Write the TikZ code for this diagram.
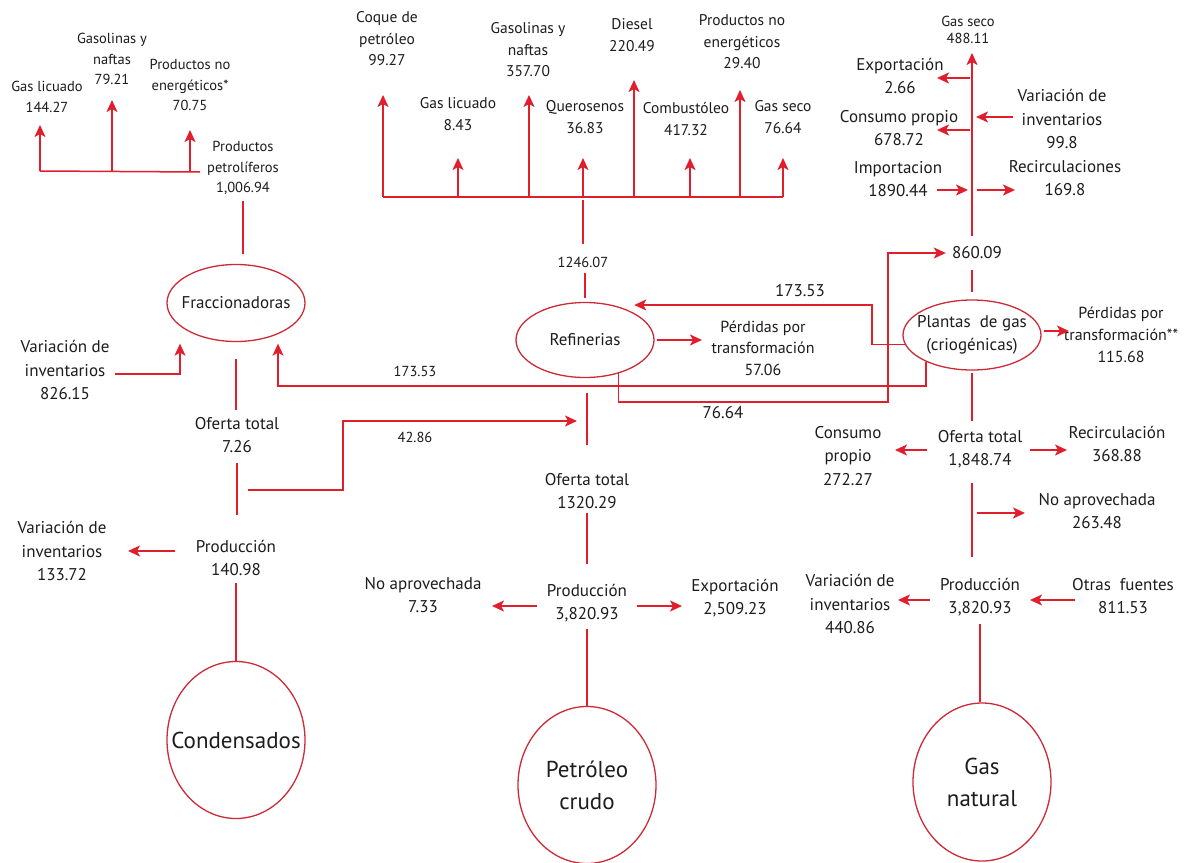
\documentclass[tikz,border=0pt]{standalone}
\usepackage{fontspec}
\setmainfont{PT Sans}
\usepackage{xcolor}
\usepackage{tikz}
\usetikzlibrary{arrows.meta,positioning,shapes.geometric,calc}
\definecolor{flowred}{RGB}{224,30,44}
\definecolor{ringred}{RGB}{205,42,55}
\definecolor{ink}{RGB}{30,28,28}
\newcommand{\fminor}{\fontsize{14.5}{20.5}\selectfont}
\newcommand{\ftop}{\fontsize{15.5}{21.5}\selectfont}
\newcommand{\fnorm}{\fontsize{17}{23.5}\selectfont}
\newcommand{\fhuge}{\fontsize{23}{32}\selectfont}
\tikzset{
  plant/.style={draw=ringred, ellipse, line width=1.3pt, minimum width=138pt, minimum height=75pt, inner sep=0pt},
  source/.style={plant, minimum height=157pt},
  amount/.style={align=center, text=ink, inner sep=1pt, font=\fnorm},
  minor/.style={amount, font=\fminor},
  product/.style={amount, font=\ftop},
  link/.style={draw=flowred, line width=1.5pt},
  flow/.style={link, -{Stealth[length=12pt, width=11pt, inset=3pt]}},
}

\begin{document}
\begin{tikzpicture}[x=1pt,y=-1pt]
  \path[fill=white] (0,0) rectangle (1185,862);
  \useasboundingbox (0,0) rectangle (1185,862);

  % Condensados
  \node[source, label={[amount, font=\fhuge]center:Condensados}] (cond) at (236,740) {};
  \node[amount] (cprod) at (236,558) {Producción\\140.98};
  \node[amount] (cvinv) at (62,551) {Variación de\\inventarios\\133.72};
  \node[amount] (coft)  at (237,435) {Oferta total\\7.26};
  \node[plant, minimum height=77pt, label={[amount]center:Fraccionadoras}] (frac) at (236,303) {};
  \node[amount] (fvinv) at (65,370) {Variación de\\inventarios\\826.15};
  \node[minor] (fpetro) at (243,168) {Productos\\petrolíferos\\1,006.94};
  \node[minor] (fgl)  at (47,97)  {Gas licuado\\144.27};
  \node[minor] (fgas) at (112,59) {Gasolinas y\\naftas\\79.21};
  \node[minor] (fpne) at (190,85) {Productos no\\energéticos*\\70.75};

  % Petroleo crudo
  \node[source, label={[amount, font=\fhuge]center:Petróleo\\crudo}] (crudo) at (587,785) {};
  \node[amount] (pprod) at (587,603) {Producción\\3,820.93};
  \node[amount] (pnoap) at (423,595) {No aprovechada\\7.33};
  \node[amount] (pexp)  at (735,598) {Exportación\\2,509.23};
  \node[amount] (poft)  at (587,491) {Oferta total\\1320.29};
  \node[plant, label={[amount]center:Refinerias}] (refi) at (585,340) {};
  \node[amount, font=\fontsize{16}{21.5}\selectfont] (rperd) at (763,348) {Pérdidas por\\transformación\\57.06};
  \node[minor] (rin) at (583,262) {1246.07};
  \node[product] (rcoque) at (387,39)  {Coque de\\petróleo\\99.27};
  \node[product] (rgl)    at (458,114) {Gas licuado\\8.43};
  \node[product] (rgas)   at (528,50)  {Gasolinas y\\naftas\\357.70};
  \node[product] (rque)   at (585,117) {Querosenos\\36.83};
  \node[product] (rdie)   at (632,35)  {Diesel\\220.49};
  \node[product] (rcomb)  at (686,119) {Combustóleo\\417.32};
  \node[product] (rpne)   at (742,42)  {Productos no\\energéticos\\29.40};
  \node[product] (rseco)  at (783,117) {Gas seco\\76.64};

  % Gas natural
  \node[source, minimum height=158pt, label={[amount, font=\fhuge]center:Gas\\natural}] (gnat) at (982,782) {};
  \node[amount] (gprod)  at (980,597)  {Producción\\3,820.93};
  \node[amount] (gvinv)  at (850,604)  {Variación de\\inventarios\\440.86};
  \node[amount] (gotras) at (1123,596) {Otras\ \ fuentes\\811.53};
  \node[amount] (gnoap)  at (1097,511) {No aprovechada\\263.48};
  \node[amount] (goft)   at (980,449)  {Oferta total\\1,848.74};
  \node[amount] (gcons)  at (848,456)  {Consumo\\propio\\272.27};
  \node[amount] (grecir) at (1117,444) {Recirculación\\368.88};
  \node[plant, minimum height=70pt, label={[amount]center:Plantas\ \ de gas\\(criogénicas)}] (pgas) at (972,335) {};
  \node[amount, font=\fontsize{16}{22}\selectfont] (gperd) at (1121,335) {Pérdidas por\\transformación**\\115.68};
  \node[amount] (gin)    at (977,253)  {860.09};
  \node[minor, font=\fontsize{14.5}{17}\selectfont] (gseco) at (968,30) {Gas seco\\488.11};
  \node[amount] (gexp)   at (900,76)   {Exportación\\2.66};
  \node[amount] (gcprop) at (899,128)  {Consumo propio\\678.72};
  \node[amount] (gvinv2) at (1062,119) {Variación de\\inventarios\\99.8};
  \node[amount] (gimp)   at (898,179)  {Importacion\\1890.44};
  \node[amount] (grec2)  at (1065,178) {Recirculaciones\\169.8};

  % Flow values
  \node[minor]  (vfrac) at (415,371) {173.53};
  \node[minor]  (vcond) at (415,437) {42.86};
  \node[amount] (vrefi) at (800,291) {173.53};
  \node[amount] (vgas)  at (723,413) {76.64};

  % Junctions
  \coordinate (fbusL) at (40,171);
  \coordinate (fbusR) at (200,172);
  \coordinate (rbusL) at (383,197);
  \coordinate (rbusR) at (783,197);
  \coordinate (gtrunk) at (972,236);
  \coordinate (fknee) at (278,386);
  \coordinate (fvknee) at (180,374);
  \coordinate (ckneeA) at (248,490);
  \coordinate (ckneeB) at (343,490);
  \coordinate (gknee) at (888,402);
  \coordinate (gbend) at (872,305);

  % Arrow tips and free starts
  \coordinate (tfgl) at (40,125);
  \coordinate (tfgas) at (112,100);
  \coordinate (tfpne) at (190,130);
  \coordinate (tcoque) at (383,95);
  \coordinate (trgl) at (458,158);
  \coordinate (trgas) at (529,95);
  \coordinate (trque) at (583,158);
  \coordinate (trdie) at (634,80);
  \coordinate (trcomb) at (690,158);
  \coordinate (trpne) at (740,90);
  \coordinate (trseco) at (783,158);
  \coordinate (tgseco) at (972,53);
  \coordinate (tgexp) at (937,78);
  \coordinate (tgcprop) at (937,130);
  \coordinate (sgvinv2) at (1013,117);
  \coordinate (tgvinv2) at (976,117);
  \coordinate (sgimp) at (937,190);
  \coordinate (tgimp) at (968,190);
  \coordinate (tgrec2) at (1015,190);
  \coordinate (tgperd) at (1069,331);
  \coordinate (sgcons) at (927,450);
  \coordinate (tgcons) at (895,450);
  \coordinate (sgrecir) at (1030,450);
  \coordinate (tgrecir) at (1067,450);
  \coordinate (tgnoap) at (1025,513);
  \coordinate (sgvinv) at (930,600);
  \coordinate (tgvinv) at (898,600);
  \coordinate (sgotras) at (1075,600);
  \coordinate (tgotras) at (1030,600);
  \coordinate (spnoap) at (537,606);
  \coordinate (tpnoap) at (492,606);
  \coordinate (spexp) at (637,606);
  \coordinate (tpexp) at (682,606);
  \coordinate (scvinv) at (175,551);
  \coordinate (tcvinv) at (128,551);
  \coordinate (sfvinv) at (115,374);
  \coordinate (trefi) at (577,421);
  \coordinate (trperd) at (702,340);

  % Condensados flows
  \draw[link, shorten <=6pt] (cprod.south) -- (cond.north);
  \draw[link, shorten <=9pt, shorten >=24pt] (coft.south) -- (coft.south |- cprod.north);
  \draw[link, shorten <=17pt, shorten >=6pt] (frac.south) -- (frac.south |- coft.north);
  \draw[link, shorten <=5pt, shorten >=10pt] (fpetro.south) -- (fpetro.south |- frac.north);
  \draw[flow] (scvinv) -- (tcvinv);
  \draw[flow, shorten >=1.5pt] (sfvinv) -- (fvknee) -- (fvknee |- frac.south);
  \draw[link] (fbusL) -- (fbusR);
  \draw[flow] (tfgl |- fbusL) -- (tfgl);
  \draw[flow] (tfgas |- fbusL) -- (tfgas);
  \draw[flow] (tfpne |- fbusR) -- (tfpne);
  \draw[flow] (ckneeA) -- (ckneeB) |- (trefi);

  % Petroleo flows
  \draw[link, shorten <=6pt] (pprod.south) -- (pprod.south |- crudo.north);
  \draw[link, shorten <=19pt, shorten >=3pt] (pprod.north) -- (pprod.north |- poft.south);
  \draw[link, shorten <=27pt, shorten >=15pt] (poft.north) -- (poft.north |- refi.south);
  \draw[flow] (spnoap) -- (tpnoap);
  \draw[flow] (spexp) -- (tpexp);
  \draw[flow, shorten <=2pt] (refi.east) -- (trperd);
  \draw[link, shorten <=4pt, shorten >=5pt] (refi.north) -- (refi.north |- rin.south);
  \draw[link, shorten <=3pt, shorten >=12pt] (rin |- rbusL) -- (rin.north);
  \draw[link] (rbusL) -- (rbusR);
  \draw[flow] (tcoque |- rbusL) -- (tcoque);
  \draw[flow] (trgl |- rbusL) -- (trgl);
  \draw[flow] (trgas |- rbusL) -- (trgas);
  \draw[flow] (trque |- rbusL) -- (trque);
  \draw[flow] (trdie |- rbusL) -- (trdie);
  \draw[flow] (trcomb |- rbusL) -- (trcomb);
  \draw[flow] (trpne |- rbusL) -- (trpne);
  \draw[flow] (trseco |- rbusL) -- (trseco);

  % Gas flows
  \draw[link, shorten <=7pt] (gprod.south) -- (gprod.south |- gnat.north);
  \draw[link, shorten <=14pt, shorten >=20pt] (pgas.south |- goft.south) -- (pgas.south |- gprod.north);
  \draw[flow, shorten <=5pt] (pgas.south |- tgnoap) -- (tgnoap);
  \draw[link, shorten <=2pt, shorten >=8pt] (pgas.south) -- (pgas.south |- goft.north);
  \draw[flow] (sgvinv) -- (tgvinv);
  \draw[flow] (sgotras) -- (tgotras);
  \draw[flow] (sgcons) -- (tgcons);
  \draw[flow] (sgrecir) -- (tgrecir);
  \draw[flow, shorten <=2pt] (pgas.east |- tgperd) -- (tgperd);
  \draw[link, shorten <=10pt, shorten >=7pt] (pgas.north |- gin.south) -- (pgas.north);
  \draw[flow] (gtrunk) -- (tgseco);
  \draw[flow, shorten <=2pt] (gtrunk |- tgexp) -- (tgexp);
  \draw[flow, shorten <=2pt] (gtrunk |- tgcprop) -- (tgcprop);
  \draw[flow] (sgvinv2) -- (tgvinv2);
  \draw[flow] (sgimp) -- (tgimp);
  \draw[flow, shorten <=5pt] (gtrunk |- tgrec2) -- (tgrec2);

  % Cross flows between plants
  \draw[flow, shorten >=5pt] (refi.-45) |- (gknee) |- (gin.west);
  \draw[flow] (pgas.188) -| (gbend) -- (gbend -| refi.north east);
  \draw[flow, shorten >=1.5pt] (pgas.210) |- (fknee) -- (fknee |- frac.south);
\end{tikzpicture}
\end{document}
